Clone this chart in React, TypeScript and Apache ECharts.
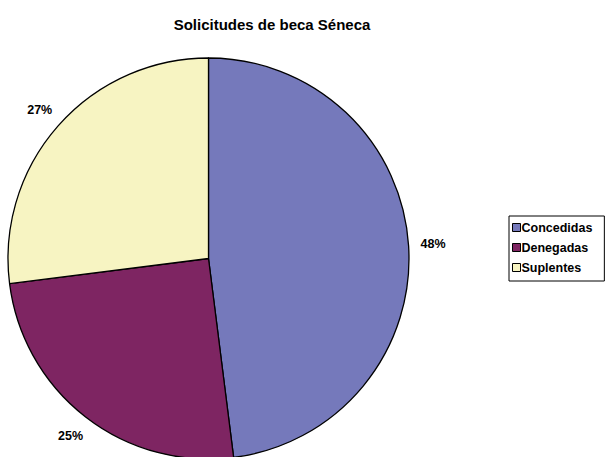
import React, { useEffect, useRef } from "react";
import * as echarts from "echarts";

const categories = ["Concedidas", "Denegadas", "Suplentes"];
const values = [48, 25, 27];
const colors = ["#7579BB", "#7E2562", "#F7F4C2"];
const titleText = "Solicitudes de beca Séneca";

export default function App() {
  const ref = useRef<HTMLDivElement>(null);
  useEffect(() => {
    document.body.style.margin = "0";
    const chart = echarts.init(ref.current!, null, { renderer: "svg" });
    const data = categories.map((name, i) => ({ name, value: values[i] }));
    chart.setOption({
      animation: false,
      backgroundColor: "#ffffff",
      color: colors,
      title: {
        text: titleText,
        left: 267,
        top: 12,
        textAlign: "center",
        textStyle: { fontFamily: "Liberation Sans, Arial", fontWeight: "bold", fontSize: 15, color: "#000" },
      },
      legend: {
        data: categories,
        orient: "vertical",
        left: 509,
        top: 216,
        borderColor: "#000",
        borderWidth: 1,
        padding: [5, 12, 7, 3],
        itemWidth: 8,
        itemHeight: 8,
        itemGap: 7,
        icon: "rect",
        itemStyle: { borderColor: "#000", borderWidth: 1 },
        textStyle: { fontFamily: "Liberation Sans, Arial", fontWeight: "bold", fontSize: 12.5, color: "#000", padding: [0, 0, 0, -4] },
      },
      series: [
        {
          type: "pie",
          center: [208.5, 258.5],
          radius: 200.5,
          startAngle: 90,
          clockwise: true,
          silent: true,
          label: { show: false },
          labelLine: { show: false },
          itemStyle: { borderColor: "#000", borderWidth: 1.3 },
          data,
        },
        {
          type: "pie",
          center: [208.5, 258.5],
          radius: [200, 244],
          startAngle: 90,
          clockwise: true,
          silent: true,
          itemStyle: { color: "transparent", borderWidth: 0 },
          label: {
            show: true,
            position: "inside",
            formatter: "{d}%",
            fontFamily: "Liberation Sans, Arial",
            fontWeight: "bold",
            fontSize: 12.5,
            color: "#000",
          },
          labelLine: { show: false },
          data,
        },
      ],
    });
    return () => chart.dispose();
  }, []);
  return <div ref={ref} style={{ width: 607, height: 457 }} />;
}
